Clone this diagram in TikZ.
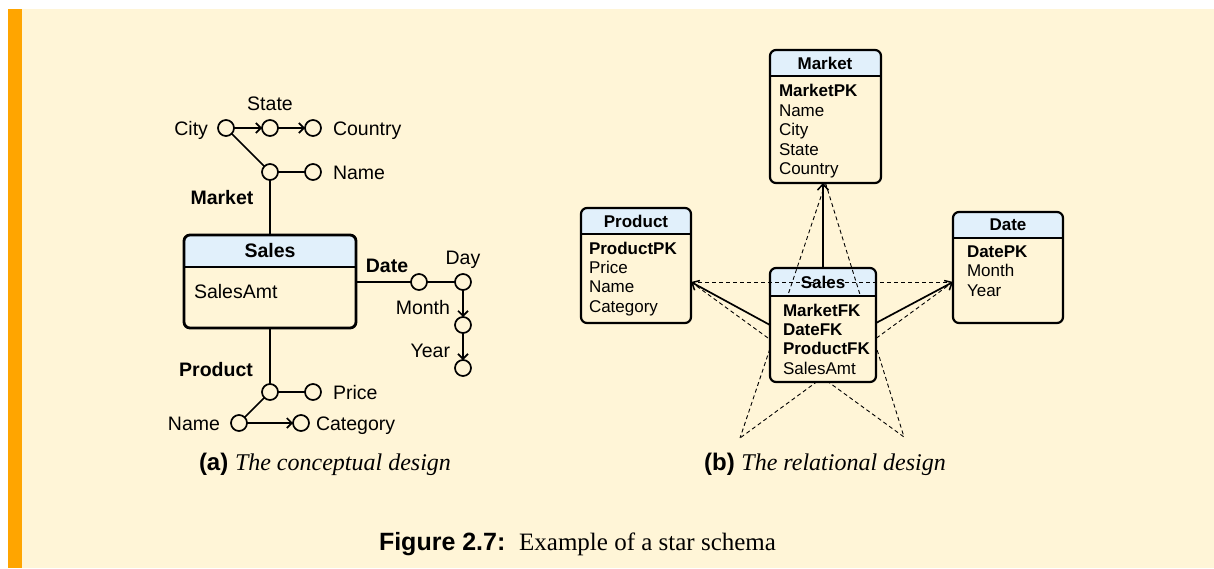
\documentclass[tikz,border=0pt]{standalone}
\usepackage{fontspec}
\setmainfont{Liberation Serif}
\setsansfont{Liberation Sans}
\usetikzlibrary{arrows.meta,fit,calc}

\definecolor{paper}{HTML}{FFF5D7}
\definecolor{barorange}{HTML}{FFA500}
\definecolor{headblue}{HTML}{E1F0FB}

% table frame: #1 name, #2 left, #3 top, #4 right, #5 bottom, #6 divider y, #7 line width
\newcommand\tblframe[7]{%
  \node[fit={(#2,#3) (#4,#5)}] (#1) {};
  \begin{scope}
    \clip[rounded corners=6pt] (#1.north west) rectangle (#1.south east);
    \fill[paper] (#1.north west) rectangle (#1.south east);
    \fill[headblue] (#1.north west) rectangle (#4,#6);
  \end{scope}
  \draw[line width=#7] (#2,#6) -- (#4,#6);
  \draw[line width=#7, rounded corners=6pt] (#1.north west) rectangle (#1.south east);
}

\begin{document}
\begin{tikzpicture}[x=1pt,y=-1pt,
  every node/.style={inner sep=0pt, outer sep=0pt},
  lvl/.style={circle, draw, line width=1.7pt, fill=paper, minimum size=16pt},
  link/.style={line width=1.7pt},
  roll/.style={line width=1.7pt, -{Straight Barb[length=5pt,width=10pt,line width=1.7pt]}},
  albl/.style={font=\sffamily\fontsize{19.5}{23}\selectfont},
  adim/.style={font=\sffamily\bfseries\fontsize{19.5}{23}\selectfont},
  bhead/.style={font=\sffamily\bfseries\fontsize{17}{19.4}\selectfont},
  bbody/.style={font=\sffamily\fontsize{17}{19.4}\selectfont, align=left, anchor=north west},
  fk/.style={line width=1.7pt, -{Straight Barb[length=6pt,width=11pt,line width=1.5pt]}},
  star/.style={line width=0.9pt, dash pattern=on 4pt off 3pt},
]
% page background and side bar
\fill[white] (0,0) rectangle (1214,568);
\fill[paper] (22,9) rectangle (1214,568);
\fill[barorange] (8,9) rectangle (22,568);
\useasboundingbox (0,0) rectangle (1214,568);

% ---------------- (a) conceptual design ----------------
\tblframe{salesA}{184}{235}{356}{328}{267}{2.8pt}
\node[adim] (salesAT) at (270,251) {Sales};
\node[albl, anchor=base west] (salesAB) at (194,298) {SalesAmt};

% Market hierarchy
\node[lvl] (mkt) at (270,172) {};
\node[lvl] (mktname) at (313,172) {};
\node[lvl] (city) at (226,128) {};
\node[lvl] (state) at (270,128) {};
\node[lvl] (country) at (313,128) {};
\draw[link] (salesA.north) -- (mkt);
\draw[link] (mkt) -- (mktname);
\draw[link] (mkt) -- (city);
\draw[roll] (city) -- (state);
\draw[roll] (state) -- (country);
\node[albl, anchor=base east] (cityL) at (208,135) {City};
\node[albl, anchor=base] (stateL) at (270,110) {State};
\node[albl, anchor=base west] (countryL) at (333,135) {Country};
\node[albl, anchor=base west] (mktnameL) at (333,179) {Name};
\node[adim, anchor=base] (mktL) at (222,204) {Market};

% Date hierarchy
\node[lvl] (date) at (419,282) {};
\node[lvl] (day) at (463,282) {};
\node[lvl] (month) at (463,325) {};
\node[lvl] (year) at (463,368) {};
\draw[link] (salesA.east |- date) -- (date);
\draw[link] (date) -- (day);
\draw[roll] (day) -- (month);
\draw[roll] (month) -- (year);
\node[adim, anchor=base] (dateL) at (387,272) {Date};
\node[albl, anchor=base] (dayL) at (463,264) {Day};
\node[albl, anchor=base east] (monthL) at (450,314) {Month};
\node[albl, anchor=base east] (yearL) at (450,357) {Year};

% Product hierarchy
\node[lvl] (prod) at (270,392) {};
\node[lvl] (price) at (313,392) {};
\node[lvl] (pname) at (239,423) {};
\node[lvl] (categ) at (301,423) {};
\draw[link] (salesA.south) -- (prod);
\draw[link] (prod) -- (price);
\draw[link] (prod) -- (pname);
\draw[roll] (pname) -- (categ);
\node[adim, anchor=base] (prodL) at (216,376) {Product};
\node[albl, anchor=base west] (priceL) at (333,399) {Price};
\node[albl, anchor=base east] (pnameL) at (220,430) {Name};
\node[albl, anchor=base west] (categL) at (316,430) {Category};

\node[anchor=base west] (capa) at (199,470)
  {\sffamily\bfseries\fontsize{24}{28}\selectfont (a) \normalfont\rmfamily\itshape The conceptual design};

% ---------------- (b) relational design ----------------
\tblframe{market}{770}{50}{881}{183}{76}{2.2pt}
\tblframe{product}{581}{208}{691}{323}{234}{2.2pt}
\tblframe{datetbl}{953}{212}{1063}{323}{238}{2.2pt}

% fact table: header first, so the star lines run over it
\node[fit={(770,268) (876,382)}, fill=headblue, rounded corners=6pt] (salesB) {};

\coordinate (sTop) at (market.south);
\coordinate (sLeft) at (product.east |- 0,282);
\coordinate (sRight) at (datetbl.west |- 0,282);
\coordinate (sBL) at (740,438);
\coordinate (sBR) at (904,437);
\draw[star] (sTop) -- (sBL);
\draw[star] (sTop) -- (sBR);
\draw[star] (sLeft) -- (sRight);
\draw[star] (sLeft) -- (sBR);
\draw[star] (sRight) -- (sBL);

\begin{scope}
  \clip[rounded corners=6pt] (salesB.north west) rectangle (salesB.south east);
  \fill[paper] (770,296) rectangle (salesB.south east);
\end{scope}
\draw[line width=2.2pt] (770,296) -- (876,296);
\draw[line width=2.2pt, rounded corners=6pt] (salesB.north west) rectangle (salesB.south east);

\draw[fk] (salesB.north) -- (salesB.north |- sTop);
\draw[fk] (salesB.west |- 0,325) -- (sLeft);
\draw[fk] (salesB.east |- 0,323) -- (sRight);

\node[bhead] (marketT) at (825,63) {Market};
\node[bbody] (marketB) at (779,84.5) {\textbf{MarketPK}\\Name\\City\\State\\Country};
\node[bhead] (productT) at (636,221) {Product};
\node[bbody] (productB) at (589,241.7) {\textbf{ProductPK}\\Price\\Name\\Category};
\node[bhead] (dateT) at (1008,225) {Date};
\node[bbody] (dateB) at (967,245.7) {\textbf{DatePK}\\Month\\Year};
\node[bhead] (salesBT) at (823,282) {Sales};
\node[bbody] (salesBB) at (783,303.7) {\textbf{MarketFK}\\\textbf{DateFK}\\\textbf{ProductFK}\\SalesAmt};

\node[anchor=base] (capb) at (825,470)
  {\sffamily\bfseries\fontsize{24}{28}\selectfont (b) \normalfont\rmfamily\itshape The relational design};

% figure caption
\node[anchor=base west] (fig) at (379,550)
  {\sffamily\bfseries\fontsize{25}{30}\selectfont Figure 2.7:\hspace{0.55em}\normalfont\rmfamily Example of a star schema};
\end{tikzpicture}
\end{document}
